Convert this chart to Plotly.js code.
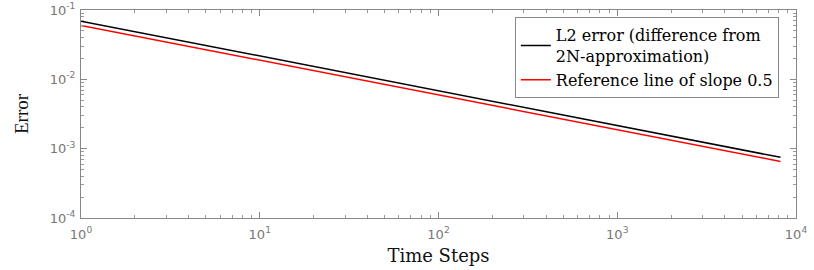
<!DOCTYPE html>
<html>
<head>
<meta charset="utf-8">
<script src="https://cdn.plot.ly/plotly-3.0.1.min.js"></script>
<style>html,body{margin:0;padding:0;background:#fff;}#chart{width:814px;height:270px;}</style>
</head>
<body>
<div id="chart"></div>
<script>
var timeSteps = [1, 2, 4, 8, 16, 32, 64, 128, 256, 512, 1024, 2048, 4096, 8192];
var l2Error = [0.069, 0.0488, 0.0345, 0.0244, 0.0172, 0.0122, 0.0086, 0.0061, 0.0043, 0.00305, 0.00216, 0.00152, 0.00108, 0.00075];
var refLine = [0.06, 0.0424, 0.03, 0.0212, 0.015, 0.0106, 0.0075, 0.0053, 0.00375, 0.00265, 0.001875, 0.001326, 0.000938, 0.000655];
var xTickVals = [1, 10, 100, 1000, 10000];
var xTickText = ['10<sup>0</sup>', '10<sup>1</sup>', '10<sup>2</sup>', '10<sup>3</sup>', '10<sup>4</sup>'];
var yTickVals = [0.0001, 0.001, 0.01, 0.1];
var yTickText = ['10<sup>-4</sup>', '10<sup>-3</sup>', '10<sup>-2</sup>', '10<sup>-1</sup>'];
var legendNames = ['L2 error (difference from<br>2N-approximation)', 'Reference line of slope 0.5'];

var traces = [
  {x: timeSteps, y: l2Error, mode: 'lines', name: legendNames[0], line: {color: '#000000', width: 1.5}},
  {x: timeSteps, y: refLine, mode: 'lines', name: legendNames[1], line: {color: '#ff0000', width: 1.5}}
];

var axisCommon = {
  type: 'log',
  showline: true, linecolor: '#888', linewidth: 1,
  mirror: 'ticks', ticks: 'inside', ticklen: 6, tickcolor: '#888',
  showgrid: false, zeroline: false,
  tickfont: {family: 'DejaVu Sans', size: 13, color: '#777'},
  minor: {ticks: 'inside', ticklen: 3, tickcolor: '#999', showgrid: false, dtick: 'D1'},
  tickmode: 'array'
};

var layout = {
  width: 814, height: 270,
  margin: {l: 81, r: 18, t: 10, b: 52},
  paper_bgcolor: '#fff', plot_bgcolor: '#fff',
  showlegend: true,
  xaxis: Object.assign({}, axisCommon, {
    range: [0, 4], tickvals: xTickVals, ticktext: xTickText,
    ticklabelstandoff: 4,
    title: {text: 'Time Steps', font: {family: 'DejaVu Serif', size: 18, color: '#111'}, standoff: 8}
  }),
  yaxis: Object.assign({}, axisCommon, {
    range: [-4, -1], tickvals: yTickVals, ticktext: yTickText,
    ticklabelstandoff: 2,
    title: {text: 'Error', font: {family: 'Liberation Serif', size: 19, color: '#111'}, standoff: 16}
  }),
  legend: {
    x: 0.976, y: 0.965, xanchor: 'right', yanchor: 'top',
    bgcolor: '#fff', bordercolor: '#888', borderwidth: 1,
    font: {family: 'DejaVu Serif', size: 16, color: '#000'},
    tracegroupgap: 0, itemwidth: 30
  }
};

Plotly.newPlot('chart', traces, layout, {staticPlot: true, displayModeBar: false});
</script>
</body>
</html>
